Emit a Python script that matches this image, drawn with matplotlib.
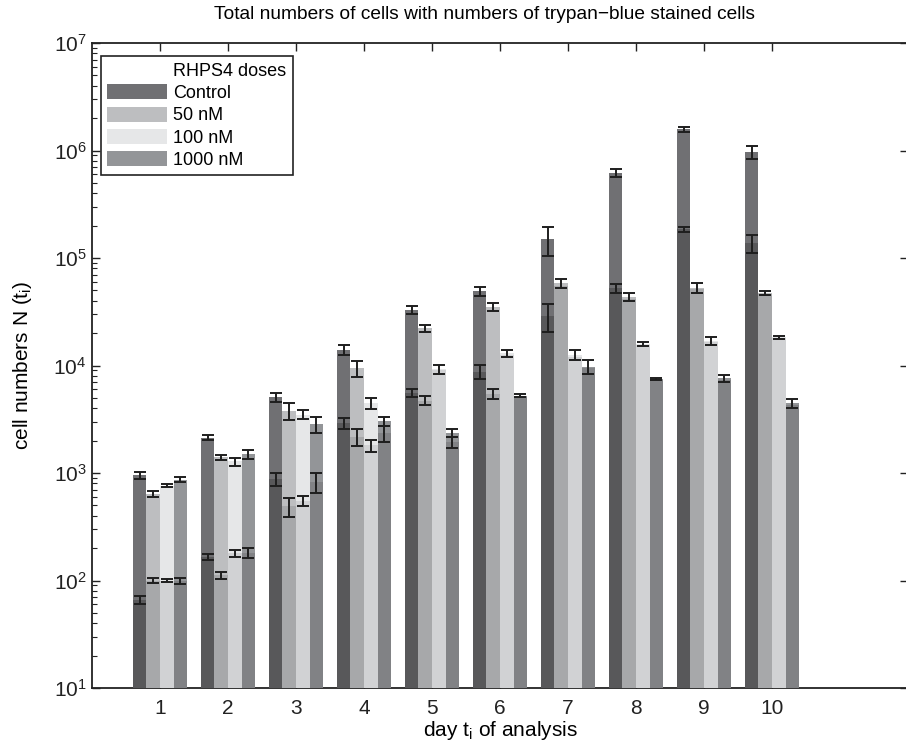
import numpy as np
import matplotlib
matplotlib.use("Agg")
import matplotlib.pyplot as plt
from matplotlib.patches import Patch

plt.rcParams['font.family'] = ['Liberation Sans', 'DejaVu Sans']
plt.rcParams['mathtext.fontset'] = 'custom'
plt.rcParams['mathtext.rm'] = 'Liberation Sans'
plt.rcParams['mathtext.it'] = 'Liberation Sans'

days = [1, 2, 3, 4, 5, 6, 7, 8, 9, 10]
doses = ['Control', '50 nM', '100 nM', '1000 nM']

# total cell numbers per dose (rows) and day (columns)
total = [
    [950, 2130, 5100, 14000, 32800, 49300, 150000, 622000, 1570000, 962000],
    [640, 1400, 3800, 9400, 22200, 35200, 58200, 43600, 52900, 47500],
    [760, 1280, 3500, 4450, 9300, 12970, 12500, 15800, 17000, 18300],
    [870, 1500, 2850, 3050, 2370, 5240, 9750, 7440, 7600, 4450],
]
total_err = [
    [70, 120, 500, 1500, 2800, 5000, 45000, 55000, 70000, 130000],
    [40, 70, 700, 1500, 1800, 3000, 6000, 4000, 6000, 2000],
    [25, 110, 350, 500, 900, 900, 1300, 600, 1500, 600],
    [50, 140, 500, 300, 220, 200, 1500, 150, 600, 450],
]
# trypan-blue stained cell numbers
stained = [
    [66, 166, 880, 2900, 5560, 8770, 28900, 52300, 186000, 137000],
    [100, 112, 490, 2180, 4700, 5430, 55000, 42000, 51000, 46500],
    [100, 179, 550, 1810, 9000, 12500, 12000, 15500, 16600, 18000],
    [99, 181, 820, 2340, 1940, 5100, 9500, 7300, 7400, 4300],
]
stained_err = [
    [6, 12, 130, 350, 500, 1300, 8500, 5000, 10000, 25000],
    [6, 8, 100, 400, 450, 600, 0, 0, 0, 0],
    [3, 15, 60, 230, 0, 0, 0, 0, 0, 0],
    [6, 18, 170, 400, 230, 0, 0, 0, 0, 0],
]

total_colors = ['#707073', '#bdbec0', '#e6e7e8', '#939598']
stained_colors = ['#58585a', '#a7a8aa', '#d1d2d4', '#818285']
offsets = [-0.3, -0.1, 0.1, 0.3]
width = 0.2

fig = plt.figure(figsize=(9.06, 7.41), dpi=100)
ax = fig.add_axes([92 / 906, 53 / 741, 816 / 906, 645 / 741])
ax.set_yscale('log')

x = np.array(days, dtype=float)
for k in range(4):
    ax.bar(x + offsets[k], total[k], width, color=total_colors[k], zorder=2)
for k in range(4):
    ax.bar(x + offsets[k], stained[k], width, color=stained_colors[k], zorder=3)

ekw = dict(fmt='none', ecolor='#1e1e1e', elinewidth=1.4, capsize=4.3,
           capthick=1.4, zorder=4)
for k in range(4):
    ax.errorbar(x + offsets[k], total[k], yerr=total_err[k], **ekw)
    se = np.array(stained_err[k], dtype=float)
    m = se > 0
    ax.errorbar((x + offsets[k])[m], np.array(stained[k])[m], yerr=se[m], **ekw)

ax.set_xlim(0, 12)
ax.set_ylim(10, 1e7)
ax.set_xticks(days)
ax.set_xticklabels([str(d) for d in days])
ax.tick_params(axis='both', which='both', direction='in', top=True, right=True,
               labelsize=15, colors='#222222')
ax.tick_params(axis='both', which='major', length=6, width=1)
ax.tick_params(axis='x', which='major', pad=8)
ax.tick_params(axis='y', which='major', pad=4)
ax.tick_params(axis='y', which='minor', length=3.5, width=0.8, right=False)
ax.tick_params(axis='x', which='minor', bottom=False, top=False)
for s in ax.spines.values():
    s.set_linewidth(1.3)
    s.set_color('#222222')

ax.set_xlabel('day t$_\\mathregular{i}$ of analysis', fontsize=15, labelpad=1)
ax.set_ylabel('cell numbers N (t$_\\mathregular{i}$)', fontsize=15, labelpad=14)
ax.set_title('Total numbers of cells with numbers of trypan\u2212blue stained cells',
             fontsize=13.8, pad=17, x=0.4816)

handles = [Patch(facecolor='none', edgecolor='none')]
handles += [Patch(facecolor=c, edgecolor='none') for c in total_colors]
leg = ax.legend(handles, ['RHPS4 doses'] + doses, loc='upper left',
                bbox_to_anchor=(0.011, 0.98), fontsize=13, frameon=True,
                fancybox=False, edgecolor='#222222', framealpha=1,
                handlelength=3.3, handleheight=0.9, handletextpad=0.35,
                labelspacing=0.25, borderpad=0.35, borderaxespad=0)
leg.get_frame().set_linewidth(1.2)

fig.savefig('out.png', dpi=100)
